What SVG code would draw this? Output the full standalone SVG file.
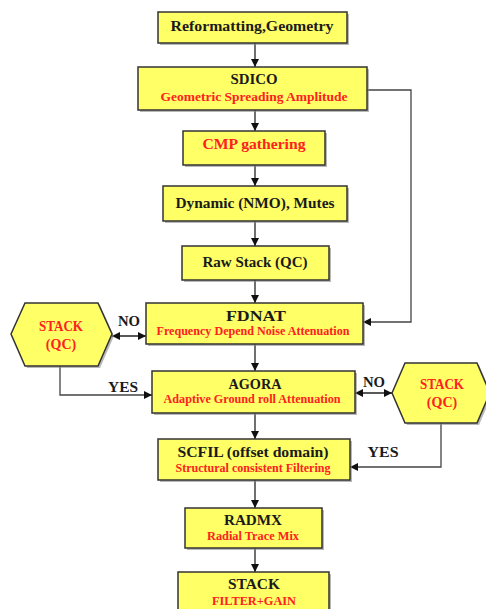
<svg xmlns="http://www.w3.org/2000/svg" width="486" height="609" viewBox="0 0 486 609">
<defs>
<style>
.box{fill:#ffff66;stroke:#333;stroke-width:1.5}
.sh{fill:#888;opacity:0.6}
text{font-family:'Liberation Serif','DejaVu Serif',serif;font-weight:bold;text-anchor:middle;fill:#1a1a1a}
.r{fill:#ff2020}
.ln{fill:none;stroke:#222;stroke-width:1.3}
.lg{fill:none;stroke:#444;stroke-width:1.3}
</style>
<marker id="ah" viewBox="0 0 10 10" refX="10" refY="5" markerWidth="8" markerHeight="8" markerUnits="userSpaceOnUse" orient="auto-start-reverse">
<path d="M0,0 L10,5 L0,10 z" fill="#111"/>
</marker>
</defs>
<rect width="486" height="609" fill="#fff"/>
<g id="connectors">
<line class="ln" x1="255" y1="43" x2="255" y2="67" marker-end="url(#ah)"/>
<line class="ln" x1="255" y1="110" x2="255" y2="131" marker-end="url(#ah)"/>
<line class="ln" x1="255" y1="165" x2="255" y2="186" marker-end="url(#ah)"/>
<line class="ln" x1="255" y1="221" x2="255" y2="246" marker-end="url(#ah)"/>
<line class="ln" x1="255" y1="280" x2="255" y2="303" marker-end="url(#ah)"/>
<line class="ln" x1="255" y1="344" x2="255" y2="371" marker-end="url(#ah)"/>
<line class="ln" x1="255" y1="413" x2="255" y2="439" marker-end="url(#ah)"/>
<line class="ln" x1="255" y1="480" x2="255" y2="508" marker-end="url(#ah)"/>
<line class="ln" x1="255" y1="548" x2="255" y2="572" marker-end="url(#ah)"/>
<polyline class="lg" points="367,90 411,90 411,322 363,322" marker-end="url(#ah)"/>
<line class="ln" x1="112" y1="336" x2="146" y2="336" marker-start="url(#ah)" marker-end="url(#ah)"/>
<polyline class="lg" points="60,366 60,395 152,395" marker-end="url(#ah)"/>
<line class="ln" x1="355" y1="393" x2="392" y2="393" marker-start="url(#ah)" marker-end="url(#ah)"/>
<polyline class="lg" points="441,423 441,467 350,467" marker-end="url(#ah)"/>
<text x="129" y="326" font-size="14" textLength="22" lengthAdjust="spacingAndGlyphs">NO</text>
<text x="123" y="392" font-size="14" textLength="30" lengthAdjust="spacingAndGlyphs">YES</text>
<text x="374" y="387" font-size="14" textLength="22" lengthAdjust="spacingAndGlyphs">NO</text>
<text x="383" y="457" font-size="14" textLength="31" lengthAdjust="spacingAndGlyphs">YES</text>
</g>
<g id="reformatting">
<rect class="sh" x="160" y="14" width="189" height="31"/>
<rect class="box" x="158" y="12" width="189" height="31"/>
<text x="252" y="31" font-size="15" textLength="163" lengthAdjust="spacingAndGlyphs">Reformatting,Geometry</text>
</g>
<g id="sdico">
<rect class="sh" x="140" y="69" width="229" height="43"/>
<rect class="box" x="138" y="67" width="229" height="43"/>
<text x="254" y="84" font-size="15" textLength="47" lengthAdjust="spacingAndGlyphs">SDICO</text>
<text class="r" x="254" y="101" font-size="12" textLength="187" lengthAdjust="spacingAndGlyphs">Geometric Spreading Amplitude</text>
</g>
<g id="cmp">
<rect class="sh" x="185" y="133" width="142" height="34"/>
<rect class="box" x="183" y="131" width="142" height="34"/>
<text class="r" x="254" y="149" font-size="15" textLength="103" lengthAdjust="spacingAndGlyphs">CMP gathering</text>
</g>
<g id="dynamic">
<rect class="sh" x="165" y="188" width="184" height="35"/>
<rect class="box" x="163" y="186" width="184" height="35"/>
<text x="255" y="208" font-size="14" textLength="159" lengthAdjust="spacingAndGlyphs">Dynamic (NMO), Mutes</text>
</g>
<g id="rawstack">
<rect class="sh" x="184" y="248" width="147" height="34"/>
<rect class="box" x="182" y="246" width="147" height="34"/>
<text x="255" y="267" font-size="14" textLength="105" lengthAdjust="spacingAndGlyphs">Raw Stack (QC)</text>
</g>
<g id="fdnat">
<rect class="sh" x="148" y="305" width="217" height="41"/>
<rect class="box" x="146" y="303" width="217" height="41"/>
<text x="256" y="321" font-size="15" textLength="60" lengthAdjust="spacingAndGlyphs">FDNAT</text>
<text class="r" x="253" y="335" font-size="12" textLength="193" lengthAdjust="spacingAndGlyphs">Frequency Depend Noise Attenuation</text>
</g>
<g id="stackqc-left">
<polygon class="sh" points="13,336 27,305 100,305 114,336 100,368 27,368"/>
<polygon class="box" points="11,334 25,303 98,303 112,334 98,366 25,366"/>
<text class="r" x="61" y="331" font-size="14" textLength="44" lengthAdjust="spacingAndGlyphs">STACK</text>
<text class="r" x="61" y="349" font-size="14">(QC)</text>
</g>
<g id="agora">
<rect class="sh" x="154" y="373" width="203" height="42"/>
<rect class="box" x="152" y="371" width="203" height="42"/>
<text x="255" y="389" font-size="15" textLength="53" lengthAdjust="spacingAndGlyphs">AGORA</text>
<text class="r" x="252" y="403" font-size="12" textLength="177" lengthAdjust="spacingAndGlyphs">Adaptive Ground roll Attenuation</text>
</g>
<g id="stackqc-right">
<polygon class="sh" points="394,395 407,365 479,365 492,395 479,425 407,425"/>
<polygon class="box" points="392,393 405,363 477,363 490,393 477,423 405,423"/>
<text class="r" x="442" y="389" font-size="14" textLength="44" lengthAdjust="spacingAndGlyphs">STACK</text>
<text class="r" x="442" y="407" font-size="14">(QC)</text>
</g>
<g id="scfil">
<rect class="sh" x="160" y="441" width="192" height="41"/>
<rect class="box" x="158" y="439" width="192" height="41"/>
<text x="253" y="457" font-size="15" textLength="151" lengthAdjust="spacingAndGlyphs">SCFIL (offset domain)</text>
<text class="r" x="253" y="472" font-size="12" textLength="155" lengthAdjust="spacingAndGlyphs">Structural consistent Filtering</text>
</g>
<g id="radmx">
<rect class="sh" x="187" y="510" width="137" height="40"/>
<rect class="box" x="185" y="508" width="137" height="40"/>
<text x="253" y="525" font-size="15" textLength="58" lengthAdjust="spacingAndGlyphs">RADMX</text>
<text class="r" x="253" y="540" font-size="12" textLength="92" lengthAdjust="spacingAndGlyphs">Radial Trace Mix</text>
</g>
<g id="stack-final">
<rect class="sh" x="180" y="574" width="151" height="45"/>
<rect class="box" x="178" y="572" width="151" height="45"/>
<text x="254" y="589" font-size="15" textLength="52" lengthAdjust="spacingAndGlyphs">STACK</text>
<text class="r" x="254" y="605" font-size="12" textLength="84" lengthAdjust="spacingAndGlyphs">FILTER+GAIN</text>
</g>
</svg>
